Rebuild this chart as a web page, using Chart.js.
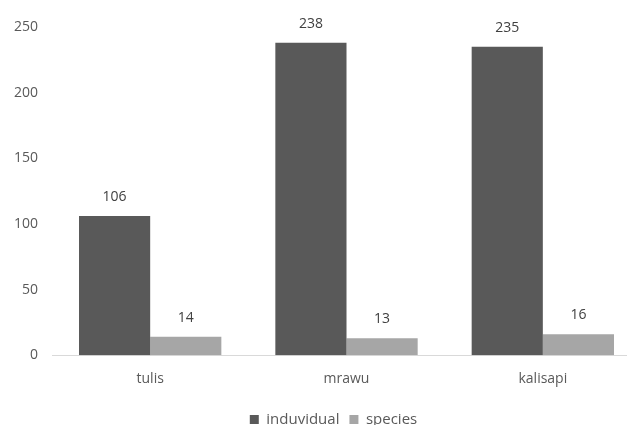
<!DOCTYPE html>
<html>
<head>
<meta charset="utf-8">
<script src="https://cdn.jsdelivr.net/npm/chart.js@4"></script>
<style>
  html, body { margin: 0; padding: 0; background: #fff; }
  #wrap { width: 627px; height: 425px; }
</style>
</head>
<body>
<div id="wrap"><canvas id="chart"></canvas></div>
<script>
const categories = ["tulis", "mrawu", "kalisapi"];
const individualValues = [106, 238, 235];
const speciesValues = [14, 13, 16];
const yTicks = [0, 50, 100, 150, 200, 250];

// value labels above each bar
const barLabels = {
  id: "barLabels",
  afterDatasetsDraw(chart) {
    const ctx = chart.ctx;
    ctx.save();
    ctx.font = "14px 'Open Sans'";
    ctx.fillStyle = "#404040";
    ctx.textAlign = "center";
    ctx.textBaseline = "bottom";
    chart.data.datasets.forEach((ds, i) => {
      chart.getDatasetMeta(i).data.forEach((bar, j) => {
        ctx.fillText(ds.data[j], bar.x, bar.y - 12);
      });
    });
    ctx.restore();
  },
};

// the original plot runs a little past the right edge of the picture,
// and its legend sits a bit right of centre
const widenX = {
  id: "widenX",
  afterLayout(chart) {
    const x = chart.scales.x;
    x.right += 14;
    x.width += 14;
    x.configure();
    chart.legend.left += 20;
    chart.legend.right += 20;
  },
};

const ctx = document.getElementById("chart").getContext("2d");
const chart = new Chart(ctx, {
  type: "bar",
  data: {
    labels: categories,
    datasets: [
      {
        label: "induvidual",
        data: individualValues,
        backgroundColor: "#595959",
        barPercentage: 1,
        categoryPercentage: 0.725,
      },
      {
        label: "species",
        data: speciesValues,
        backgroundColor: "#a6a6a6",
        barPercentage: 1,
        categoryPercentage: 0.725,
      },
    ],
  },
  options: {
    responsive: true,
    maintainAspectRatio: false,
    animation: false,
    layout: { padding: { top: 27, left: 0, right: 0, bottom: -12 } },
    plugins: {
      legend: {
        position: "bottom",
        labels: {
          boxWidth: 9,
          boxHeight: 9,
          padding: 10,
          color: "#595959",
          font: { family: "'Open Sans'", size: 15 },
        },
      },
      tooltip: { enabled: false },
    },
    scales: {
      x: {
        grid: { display: false, drawTicks: false },
        border: { color: "#d9d9d9", width: 1 },
        ticks: {
          color: "#595959",
          padding: 15,
          font: { family: "'Open Sans'", size: 14 },
        },
      },
      y: {
        min: 0,
        max: 250,
        afterBuildTicks: (axis) => {
          axis.ticks = yTicks.map((v) => ({ value: v }));
        },
        grid: { display: false, drawTicks: false },
        border: { display: false },
        ticks: {
          color: "#595959",
          padding: 14,
          font: { family: "'Open Sans'", size: 14 },
        },
      },
    },
  },
  plugins: [barLabels, widenX],
});
</script>
</body>
</html>
